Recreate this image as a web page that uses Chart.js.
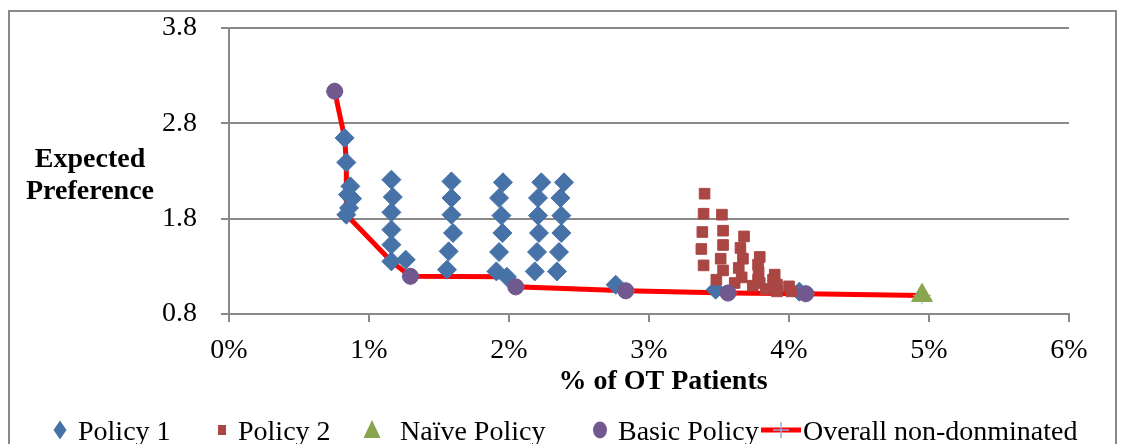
<!DOCTYPE html>
<html><head><meta charset="utf-8">
<script src="https://cdn.jsdelivr.net/npm/chart.js@4/dist/chart.umd.min.js"></script>
<style>
html,body{margin:0;padding:0;background:#fff;}
#wrap{position:relative;width:1125px;height:444px;overflow:hidden;}
#legend{position:absolute;left:0;top:0;width:1125px;height:444px;pointer-events:none;font-family:'Liberation Serif','Times New Roman',serif;font-size:28px;color:#000;}
.li-text{position:absolute;top:413px;height:36px;line-height:36px;white-space:nowrap;}
.li-mark{position:absolute;}
</style></head>
<body><div id="wrap"><canvas id="c" width="1125" height="444"></canvas><div id="legend"></div></div>
<script>
// ---- data ----
const xTicks = [0, 1, 2, 3, 4, 5, 6];           // % of OT patients
const yTicks = [0.8, 1.8, 2.8, 3.8];            // expected preference

const seriesNames = ['Policy 1', 'Policy 2', 'Naïve Policy', 'Basic Policy', 'Overall non-donminated'];

const policy1X = [0.826, 0.838, 0.867, 0.850, 0.879, 0.857, 0.838,
                  1.160, 1.170, 1.160, 1.160, 1.160, 1.160, 1.262,
                  1.589, 1.589, 1.589, 1.600, 1.569, 1.557,
                  1.957, 1.929, 1.946, 1.953, 1.929, 1.910, 1.985,
                  2.231, 2.207, 2.207, 2.214, 2.200, 2.184,
                  2.393, 2.367, 2.374, 2.374, 2.357, 2.343,
                  2.762, 3.476, 4.074];
const policy1Y = [2.647, 2.390, 2.139, 2.052, 2.010, 1.912, 1.842,
                  2.209, 2.027, 1.866, 1.685, 1.527, 1.352, 1.370,
                  2.191, 2.017, 1.842, 1.650, 1.457, 1.265,
                  2.181, 2.017, 1.832, 1.650, 1.450, 1.247, 1.190,
                  2.181, 2.017, 1.832, 1.650, 1.450, 1.247,
                  2.181, 2.017, 1.832, 1.650, 1.450, 1.247,
                  1.107, 1.055, 1.034];

const policy2X = [3.397, 3.390, 3.381, 3.374, 3.390,
                  3.521, 3.529, 3.529, 3.512, 3.529, 3.481,
                  3.679, 3.653, 3.671, 3.641, 3.662, 3.612,
                  3.791, 3.779, 3.783, 3.779, 3.791, 3.741, 3.834,
                  3.898, 3.886, 3.914, 3.914, 4.000, 4.017];
const policy2Y = [2.062, 1.852, 1.660, 1.482, 1.310,
                  1.842, 1.674, 1.524, 1.380, 1.257, 1.160,
                  1.614, 1.493, 1.380, 1.283, 1.184, 1.125,
                  1.398, 1.317, 1.237, 1.160, 1.125, 1.097, 1.062,
                  1.213, 1.160, 1.107, 1.037, 1.090, 1.037];

const naiveX = [4.95];
const naiveY = [0.995];

const basicX = [0.755, 1.296, 2.048, 2.834, 3.564, 4.120];
const basicY = [3.136, 1.195, 1.085, 1.044, 1.020, 1.013];

const frontierX = [0.755, 0.826, 0.838, 0.838, 1.160, 1.296, 1.985, 2.048, 2.834, 3.564, 4.120, 4.950];
const frontierY = [3.136, 2.647, 2.390, 1.842, 1.352, 1.195, 1.190, 1.085, 1.044, 1.020, 1.013, 0.995];

const pts = (xs, ys) => xs.map((x, i) => ({x, y: ys[i]}));

// ---- style ----
const C1 = '#4672A8', C2 = '#AA4643', C3 = '#89A54E', C4 = '#71588F', CL = '#FF0000', CX = '#8EB0DA';
const GRID = '#898989';
const FONT = "'Liberation Serif','Times New Roman',serif";

const framePlugin = {
  id: 'frame',
  beforeDraw(chart) {
    const ctx = chart.ctx;
    ctx.save();
    ctx.fillStyle = '#fff';
    ctx.fillRect(0, 0, chart.width, chart.height);
    ctx.strokeStyle = GRID;
    ctx.lineWidth = 2;
    ctx.strokeRect(9, 11, 1107, 460);
    ctx.restore();
  }
};

const titlePlugin = {
  id: 'titles',
  afterDraw(chart) {
    const ctx = chart.ctx;
    ctx.save();
    ctx.fillStyle = '#000';
    ctx.font = 'bold 28px ' + FONT;
    ctx.textAlign = 'center';
    ctx.textBaseline = 'alphabetic';
    ctx.fillText('Expected', 90, 167);
    ctx.fillText('Preference', 90, 198.5);
    ctx.fillText('% of OT Patients', 663, 389);
    ctx.restore();
  }
};

// HTML legend built from the datasets
const legendMarkX = [60, 222, 372, 600, 781];
const legendTextX = [78, 238, 400, 618, 803];
const htmlLegend = {
  id: 'htmlLegend',
  afterUpdate(chart) {
    const box = document.getElementById('legend');
    box.innerHTML = '';
    chart.data.datasets.forEach((ds, i) => {
      const cv = document.createElement('canvas');
      const W = 44, H = 30;
      cv.width = W; cv.height = H;
      cv.className = 'li-mark';
      cv.style.left = (legendMarkX[i] - W / 2) + 'px';
      cv.style.top = (430 - H / 2) + 'px';
      const g = cv.getContext('2d');
      const cx = W / 2, cy = H / 2;
      g.fillStyle = ds.backgroundColor;
      g.strokeStyle = ds.borderColor;
      if (ds.pointStyle === 'rectRot') {
        g.beginPath(); g.moveTo(cx, cy - 9.5); g.lineTo(cx + 6.5, cy); g.lineTo(cx, cy + 9.5); g.lineTo(cx - 6.5, cy); g.closePath(); g.fill();
      } else if (ds.pointStyle === 'rect') {
        g.fillRect(cx - 4, cy - 5, 8, 10);
      } else if (ds.pointStyle === 'triangle') {
        g.beginPath(); g.moveTo(cx, cy - 10); g.lineTo(cx + 8.5, cy + 8); g.lineTo(cx - 8.5, cy + 8); g.closePath(); g.fill();
      } else if (ds.pointStyle === 'circle') {
        g.beginPath(); g.ellipse(cx, cy, 7, 8.5, 0, 0, Math.PI * 2); g.fill();
      } else {
        g.strokeStyle = ds.borderColor; g.lineWidth = 5;
        g.beginPath(); g.moveTo(2, cy); g.lineTo(W - 2, cy); g.stroke();
        g.strokeStyle = ds.pointBorderColor; g.lineWidth = 1.5;
        g.beginPath(); g.moveTo(cx - 8, cy); g.lineTo(cx + 8, cy); g.moveTo(cx, cy - 8); g.lineTo(cx, cy + 8); g.stroke();
      }
      box.appendChild(cv);
      const t = document.createElement('span');
      t.className = 'li-text';
      t.style.left = legendTextX[i] + 'px';
      t.textContent = ds.label;
      box.appendChild(t);
    });
  }
};

const chart = new Chart(document.getElementById('c'), {
  type: 'scatter',
  data: {
    datasets: [
      { label: seriesNames[0], data: pts(policy1X, policy1Y), pointStyle: 'rectRot', pointRadius: 9.5, pointHoverRadius: 9.5,
        backgroundColor: C1, borderColor: C1, borderWidth: 1, order: 4 },
      { label: seriesNames[1], data: pts(policy2X, policy2Y), pointStyle: 'rect', pointRadius: 7.5, pointHoverRadius: 7.5,
        backgroundColor: C2, borderColor: C2, borderWidth: 1, order: 3 },
      { label: seriesNames[2], data: pts(naiveX, naiveY), pointStyle: 'triangle', pointRadius: 12, pointHoverRadius: 12,
        backgroundColor: C3, borderColor: C3, borderWidth: 1, order: 2 },
      { label: seriesNames[3], data: pts(basicX, basicY), pointStyle: 'circle', pointRadius: 8, pointHoverRadius: 8,
        backgroundColor: C4, borderColor: C4, borderWidth: 1, order: 1 },
      { label: seriesNames[4], data: pts(frontierX, frontierY), showLine: true, borderColor: CL, borderWidth: 5,
        backgroundColor: CL, pointStyle: 'cross', pointRadius: 9, pointHoverRadius: 9, pointBorderColor: CX,
        pointBackgroundColor: CX, pointBorderWidth: 1, tension: 0, order: 5 }
    ]
  },
  options: {
    responsive: false,
    animation: false,
    devicePixelRatio: 1,
    layout: { padding: { left: 0, right: 56, top: 28, bottom: 0 } },
    plugins: { legend: { display: false }, tooltip: { enabled: false } },
    scales: {
      x: {
        type: 'linear', min: 0, max: 6,
        afterBuildTicks: s => { s.ticks = xTicks.map(v => ({value: v})); },
        afterFit: s => { s.height = 130; s.paddingLeft = 0; s.paddingRight = 0; },
        ticks: { callback: v => v + '%', color: '#000', font: { family: FONT, size: 28 }, padding: 12, maxRotation: 0, autoSkip: false },
        grid: { drawOnChartArea: false, drawTicks: true, tickLength: 8, color: GRID, lineWidth: 2 },
        border: { display: true, color: GRID, width: 2 }
      },
      y: {
        type: 'linear', min: 0.8, max: 3.8,
        afterBuildTicks: s => { s.ticks = yTicks.map(v => ({value: v})); },
        afterFit: s => { s.width = 229; s.paddingTop = 0; s.paddingBottom = 0; },
        ticks: { callback: v => v.toFixed(1), color: '#000', font: { family: FONT, size: 28 }, padding: 24, autoSkip: false },
        grid: { drawOnChartArea: true, drawTicks: true, tickLength: 8, color: GRID, lineWidth: 2 },
        border: { display: true, color: GRID, width: 2 }
      }
    }
  },
  plugins: [framePlugin, titlePlugin, htmlLegend]
});
</script>
</body></html>
